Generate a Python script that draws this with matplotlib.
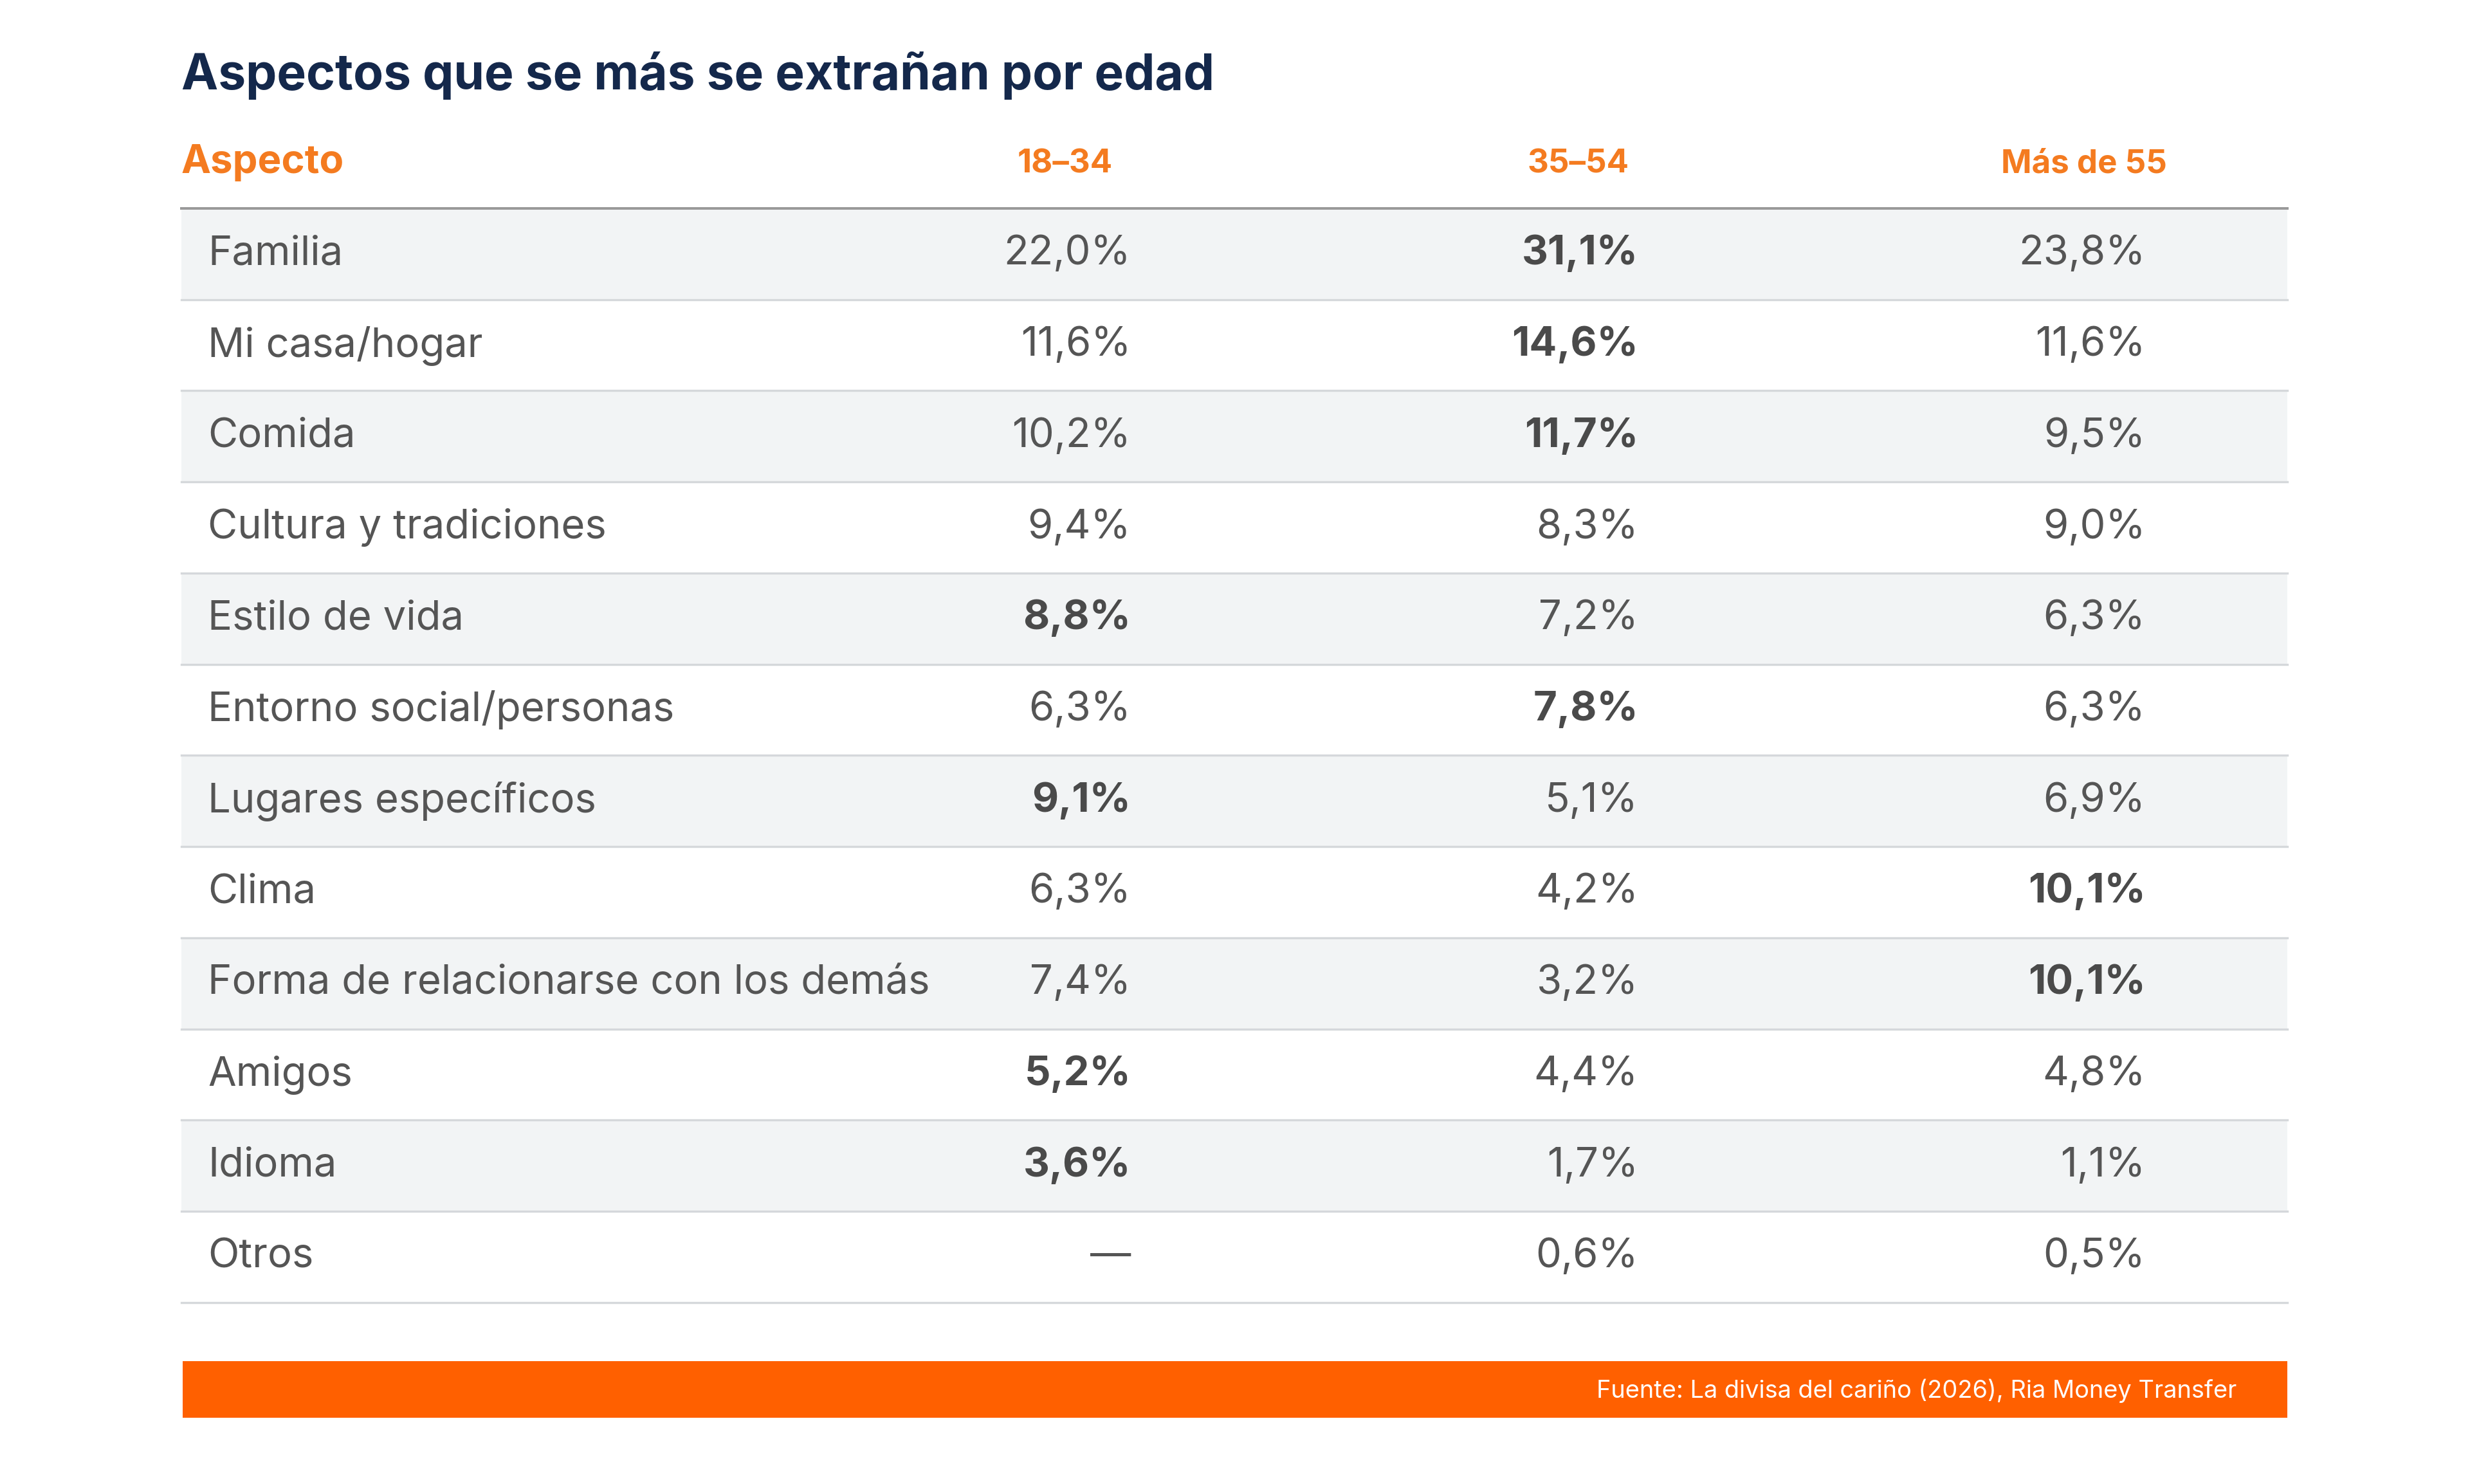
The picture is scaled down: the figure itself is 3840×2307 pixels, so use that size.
import matplotlib.pyplot as plt
from matplotlib.patches import Rectangle

plt.rcParams['font.family'] = ['Inter', 'DejaVu Sans']

aspectos = ["Familia", "Mi casa/hogar", "Comida", "Cultura y tradiciones", "Estilo de vida",
            "Entorno social/personas", "Lugares específicos", "Clima",
            "Forma de relacionarse con los demás", "Amigos", "Idioma", "Otros"]
columnas = ["18–34", "35–54", "Más de 55"]
v_18_34 = [22.0, 11.6, 10.2, 9.4, 8.8, 6.3, 9.1, 6.3, 7.4, 5.2, 3.6, None]
v_35_54 = [31.1, 14.6, 11.7, 8.3, 7.2, 7.8, 5.1, 4.2, 3.2, 4.4, 1.7, 0.6]
v_55 = [23.8, 11.6, 9.5, 9.0, 6.3, 6.3, 6.9, 10.1, 10.1, 4.8, 1.1, 0.5]
# columna en negrita por fila (-1 = ninguna)
negrita = [1, 1, 1, -1, 0, 1, 0, 2, 2, 0, 0, -1]

fig = plt.figure(figsize=(16, 9.6125), dpi=240)
ax = fig.add_axes([0, 0, 1, 1])
ax.set_xlim(0, 1568)
ax.set_ylim(940, 0)
ax.axis('off')

naranja = '#f47b20'
gris_txt = '#555555'
izq, der = 115, 1452
top, alto = 132, 57.75

ax.text(izq, 48, "Aspectos que se más se extrañan por edad", fontsize=23, fontweight='bold',
        color='#14284b', va='center', ha='left')
ax.text(izq, 103, "Aspecto", fontsize=18.5, fontweight='bold', color=naranja, va='center')
for x, c in zip([676, 1002, 1323], columnas):
    ax.text(x, 104, c, fontsize=15.3, fontweight='bold', color=naranja, va='center', ha='center')
ax.plot([izq, der], [top, top], color='#9a9a9a', lw=1.2)

cols = [v_18_34, v_35_54, v_55]
xs = [718, 1040, 1362]
for i, a in enumerate(aspectos):
    y0 = top + i * alto
    if i % 2 == 0:
        ax.add_patch(Rectangle((izq, y0), der - izq, alto, color='#f2f4f5', lw=0))
    ax.plot([izq, der], [y0 + alto, y0 + alto], color='#d5d8db', lw=1)
    yc = y0 + alto / 2
    ax.text(132, yc, a, fontsize=19, color=gris_txt, va='center', ha='left')
    for j, (x, col) in enumerate(zip(xs, cols)):
        v = col[i]
        s = "—" if v is None else f"{v:.1f}%".replace('.', ',')
        ax.text(x, yc, s, fontsize=19, color='#4a4a4a' if negrita[i] == j else gris_txt,
                fontweight='bold' if negrita[i] == j else 'normal', va='center', ha='right')

ax.add_patch(Rectangle((116, 862), der - 116, 36, color='#ff6000', lw=0))
ax.text(1420, 881, "Fuente: La divisa del cariño (2026), Ria Money Transfer", fontsize=11.4,
        color='white', va='center', ha='right')

fig.savefig("out.png", dpi=240, facecolor='white')
